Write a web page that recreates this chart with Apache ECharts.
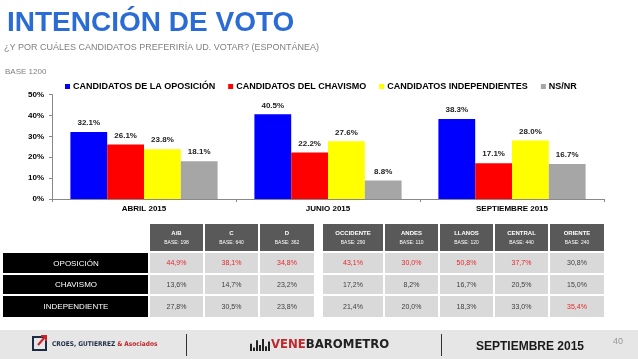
<!DOCTYPE html>
<html><head><meta charset="utf-8">
<script src="https://cdn.jsdelivr.net/npm/echarts@6/dist/echarts.min.js"></script>
<style>html,body{margin:0;padding:0;background:#fff}#c{width:638px;height:359px}</style>
</head><body><div id="c"></div>
<script>
// ---- chart data ----
const categories = ['ABRIL 2015', 'JUNIO 2015', 'SEPTIEMBRE 2015'];
const seriesNames = ['CANDIDATOS DE LA OPOSICIÓN', 'CANDIDATOS DEL CHAVISMO', 'CANDIDATOS INDEPENDIENTES', 'NS/NR'];
const oposicion = [32.1, 40.5, 38.3];
const chavismo = [26.1, 22.2, 17.1];
const independientes = [23.8, 27.6, 28.0];
const nsnr = [18.1, 8.8, 16.7];
const yMin = 0, yMax = 50, yStep = 10;

// ---- table data ----
const tableRows = ['OPOSICIÓN', 'CHAVISMO', 'INDEPENDIENTE'];
const tableCols = ['A/B', 'C', 'D', 'OCCIDENTE', 'ANDES', 'LLANOS', 'CENTRAL', 'ORIENTE'];
const tableBases = ['BASE: 198', 'BASE: 640', 'BASE: 362', 'BASE: 290', 'BASE: 110', 'BASE: 120', 'BASE: 440', 'BASE: 240'];
const rowOposicion = ['44,9%', '38,1%', '34,8%', '43,1%', '30,0%', '50,8%', '37,7%', '30,8%'];
const rowChavismo = ['13,6%', '14,7%', '23,2%', '17,2%', '8,2%', '16,7%', '20,5%', '15,0%'];
const rowIndependiente = ['27,8%', '30,5%', '23,8%', '21,4%', '20,0%', '18,3%', '33,0%', '35,4%'];

const FONT = "'Liberation Sans', Arial, sans-serif";
const COND = "'DejaVu Sans Condensed', sans-serif";
const colors = ['#0000ff', '#ff0000', '#ffff00', '#a6a6a6'];
const seriesData = [oposicion, chavismo, independientes, nsnr];

// ---- graphic elements (title, table, footer) ----
const g = [];
function txt(x, y, text, font, fill, align, valign, extra) {
  g.push(Object.assign({ type: 'text', x: x, y: y, silent: true,
    style: Object.assign({ text: text, font: font, fill: fill, textAlign: align || 'left', textVerticalAlign: valign || 'middle' }, extra || {}) }));
}
function rect(x, y, w, h, fill, extra) {
  g.push({ type: 'rect', silent: true, shape: { x: x, y: y, width: w, height: h }, style: Object.assign({ fill: fill }, extra || {}) });
}

txt(7, 23, 'INTENCIÓN DE VOTO', 'bold 28px ' + FONT, '#2b6bd6', 'left', 'middle',
  { shadowColor: 'rgba(0,0,0,0.35)', shadowBlur: 2, shadowOffsetX: 1, shadowOffsetY: 1 });
txt(4, 48, '¿Y POR CUÁLES CANDIDATOS PREFERIRÍA UD. VOTAR? (ESPONTÁNEA)', '9px ' + FONT, '#808080');
txt(5, 72, 'BASE 1200', '8px ' + FONT, '#808080');

// table
const colX = [150, 205, 260, 323, 385, 440, 495, 550];
const colW = [53, 53, 54, 60, 53, 53, 53, 54];
const rowY = [253, 275, 296];
const rowH = [20, 19, 21];
const rowsData = [rowOposicion, rowChavismo, rowIndependiente];
const num = s => parseFloat(s.replace(',', '.').replace('%', ''));
tableCols.forEach((c, i) => {
  rect(colX[i], 224, colW[i], 27, '#595959');
  const cx = colX[i] + colW[i] / 2;
  txt(cx, 233, c, 'bold 6px ' + FONT, '#ffffff', 'center');
  txt(cx, 243, tableBases[i], '5px ' + FONT, '#ffffff', 'center');
  const colVals = rowsData.map(r => num(r[i]));
  const mx = Math.max.apply(null, colVals);
  rowsData.forEach((r, j) => {
    rect(colX[i], rowY[j], colW[i], rowH[j], '#d9d9d9');
    const hi = num(r[i]) === mx;
    txt(cx, rowY[j] + rowH[j] / 2 + 0.5, r[i], '7px ' + FONT, hi ? '#e8262b' : '#404040', 'center');
  });
});
tableRows.forEach((r, j) => {
  rect(3, rowY[j], 145, rowH[j], '#000000');
  txt(76, rowY[j] + rowH[j] / 2 + 0.5, r, '8px ' + FONT, '#ffffff', 'center');
});

// footer
rect(0, 330, 638, 29, '#e6e6e6');
rect(33, 337, 13, 13, 'none', { stroke: '#1f2a44', lineWidth: 2 });
g.push({ type: 'polyline', silent: true, shape: { points: [[38, 345], [45, 337]] }, style: { stroke: '#d0202a', lineWidth: 2 } });
g.push({ type: 'polyline', silent: true, shape: { points: [[41, 336], [46, 336], [46, 341]] }, style: { stroke: '#d0202a', lineWidth: 2, fill: 'none' } });
g.push({ type: 'text', x: 52, y: 344, silent: true, style: {
  text: '{a|CROES, GUTIERREZ }{b|& Asociados}', textVerticalAlign: 'middle',
  rich: { a: { font: "bold 6.5px " + COND, fill: '#1f2a44' },
          b: { font: "bold 6.5px " + COND, fill: '#c0272d' } } } });
rect(186, 334, 1, 22, '#333333');
rect(441, 334, 1, 22, '#333333');
[[250, 6], [253, 3], [256, 9], [259, 5], [262, 10], [265, 4], [268, 8]].forEach(b => rect(b[0], 351 - b[1] * 1.2, 2, b[1] * 1.2, '#222222'));
g.push({ type: 'text', x: 271, y: 345, silent: true, style: {
  text: '{a|VENE}{b|BAROMETRO}', textVerticalAlign: 'middle',
  rich: { a: { font: "bold 13px " + COND, fill: '#c0272d' },
          b: { font: "bold 13px " + COND, fill: '#222222' } } } });
txt(530, 347, 'SEPTIEMBRE 2015', 'bold 12px ' + FONT, '#1a1a1a', 'center');
txt(618, 342, '40', '9px ' + FONT, '#999999', 'center');

const chart = echarts.init(document.getElementById('c'), null, { renderer: 'canvas' });
chart.setOption({
  animation: false,
  backgroundColor: '#ffffff',
  textStyle: { fontFamily: FONT },
  legend: {
    data: seriesNames, left: 60, top: 77, icon: 'rect', itemWidth: 5, itemHeight: 5, itemGap: 13,
    textStyle: { fontSize: 9, fontWeight: 'bold', color: '#000', fontFamily: FONT, padding: [0, 0, 0, -2] }
  },
  grid: { left: 52, right: 34, top: 94.5, bottom: 160 },
  xAxis: {
    type: 'category', data: categories,
    axisLine: { lineStyle: { color: '#888' } },
    axisTick: { show: true, length: 3, lineStyle: { color: '#888' } },
    axisLabel: { fontSize: 8, fontWeight: 'bold', color: '#000', margin: 6 }
  },
  yAxis: {
    type: 'value', min: yMin, max: yMax, interval: yStep,
    axisLine: { show: true, lineStyle: { color: '#888' } },
    axisTick: { show: true, length: 3, lineStyle: { color: '#888' } },
    splitLine: { show: false },
    axisLabel: { formatter: '{value}%', fontSize: 8, fontWeight: 'bold', color: '#000', margin: 8 }
  },
  series: seriesNames.map((n, i) => ({
    name: n, type: 'bar', data: seriesData[i], barGap: '0%', barCategoryGap: '20%',
    itemStyle: { color: colors[i] },
    label: { show: true, position: 'top', distance: 5, fontSize: 8, fontWeight: 'bold', color: '#222',
      formatter: p => p.value.toFixed(1) + '%' }
  })),
  graphic: g
});
</script></body></html>
